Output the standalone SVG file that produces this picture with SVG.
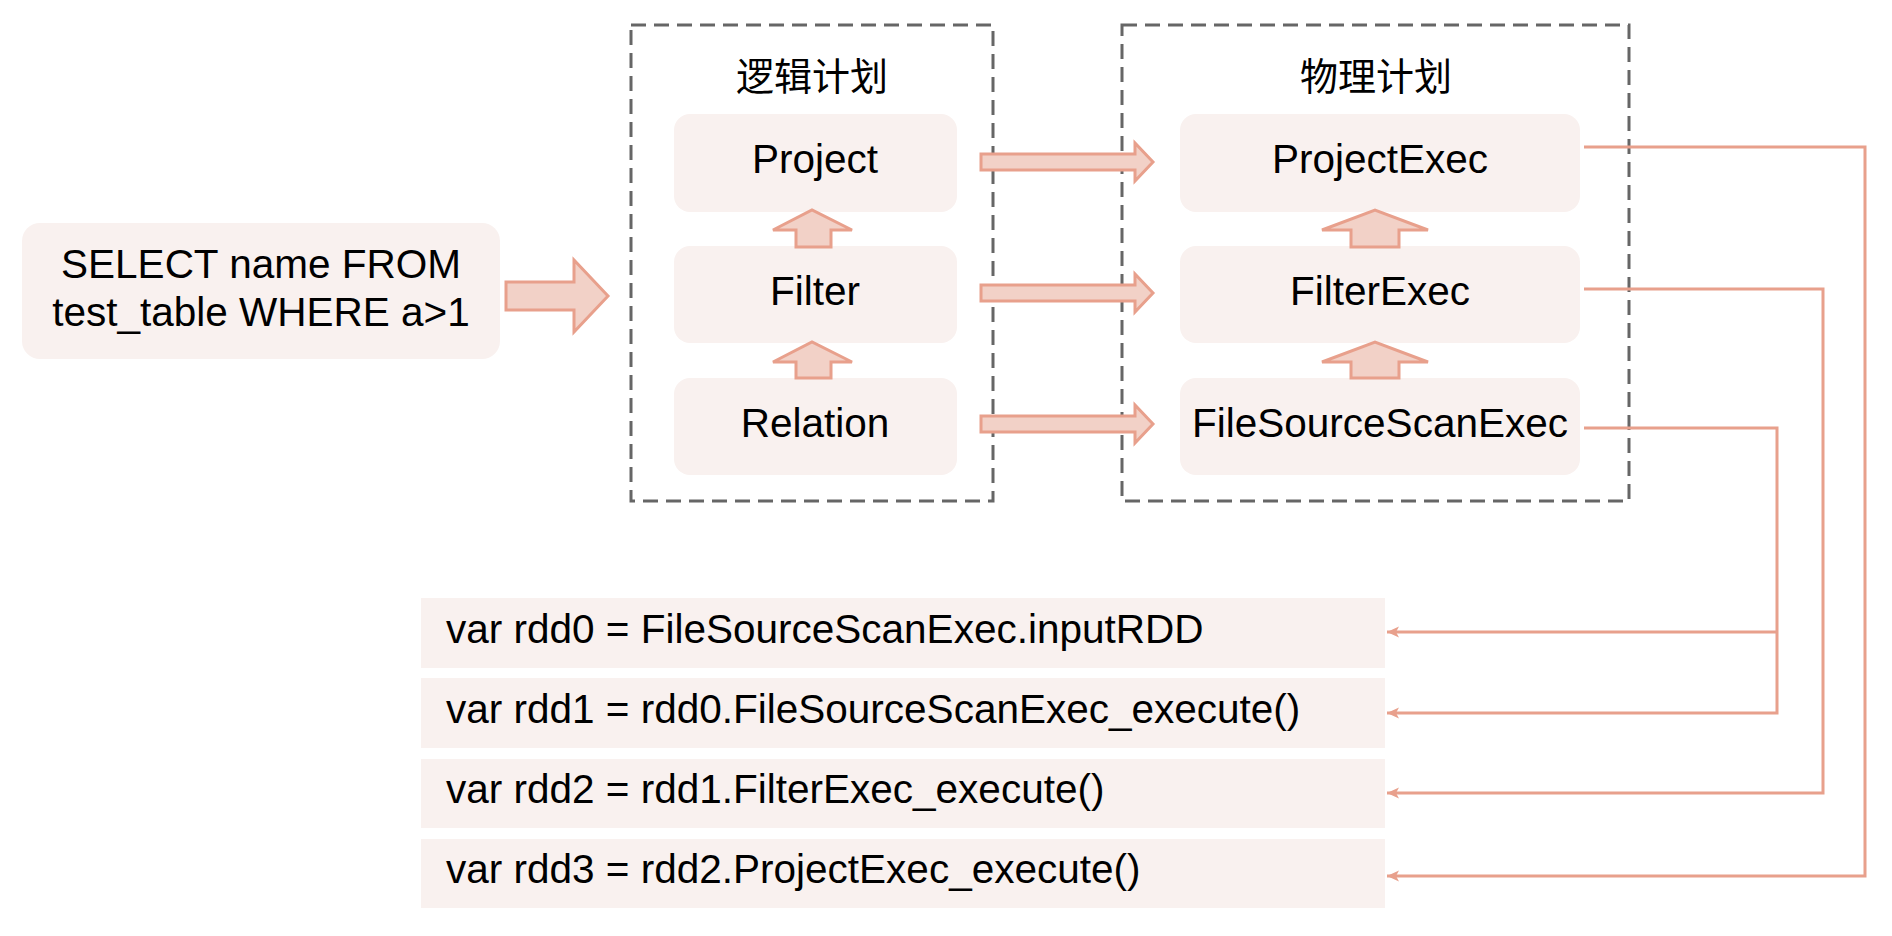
<svg xmlns="http://www.w3.org/2000/svg" width="1892" height="936" viewBox="0 0 1892 936">
<style>
.node{fill:#F9F1EF;}
.lbl{font-family:"Liberation Sans",Arial,sans-serif;font-size:40.5px;fill:#000;text-anchor:middle;}
.code{font-family:"Liberation Sans",Arial,sans-serif;font-size:40.5px;fill:#000;}
.title{font-family:"Liberation Sans","Noto Sans CJK SC",sans-serif;font-size:38px;font-weight:400;fill:#000;text-anchor:middle;}
.frame{fill:none;stroke:#666666;stroke-width:3;stroke-dasharray:15 8;}
.block{fill:#F2D1C7;stroke:#E8A08C;stroke-width:3;stroke-linejoin:miter;}
.wire{fill:none;stroke:#E8A08C;stroke-width:3;}
</style>
<defs>
<marker id="ah" markerUnits="userSpaceOnUse" markerWidth="14" markerHeight="14" viewBox="0 0 14 14" refX="13" refY="7" orient="auto">
<path d="M13,7 L1,1.5 L4,7 L1,12.5 Z" fill="#E8A08C"/>
</marker>
</defs>
<rect width="1892" height="936" fill="#FFFFFF"/>

<g id="logical-plan">
<rect class="frame" x="631" y="25" width="362" height="476"/>
<text class="title" x="812" y="90">逻辑计划</text>
</g>
<g id="physical-plan">
<rect class="frame" x="1122" y="25" width="507" height="476"/>
<text class="title" x="1376" y="90">物理计划</text>
</g>

<g id="sql">
<rect class="node" x="22" y="223" width="478" height="136" rx="18"/>
<text class="lbl" x="261" y="278">SELECT name FROM</text>
<text class="lbl" x="261" y="326">test_table WHERE a&gt;1</text>
</g>

<g id="project">
<rect class="node" x="674" y="114" width="283" height="98" rx="16"/>
<text class="lbl" x="815" y="173">Project</text>
</g>
<g id="filter">
<rect class="node" x="674" y="246" width="283" height="97" rx="16"/>
<text class="lbl" x="815" y="305">Filter</text>
</g>
<g id="relation">
<rect class="node" x="674" y="378" width="283" height="97" rx="16"/>
<text class="lbl" x="815" y="437">Relation</text>
</g>

<g id="projectexec">
<rect class="node" x="1180" y="114" width="400" height="98" rx="16"/>
<text class="lbl" x="1380" y="173">ProjectExec</text>
</g>
<g id="filterexec">
<rect class="node" x="1180" y="246" width="400" height="97" rx="16"/>
<text class="lbl" x="1380" y="305">FilterExec</text>
</g>
<g id="filesourcescanexec">
<rect class="node" x="1180" y="378" width="400" height="97" rx="16"/>
<text class="lbl" x="1380" y="437">FileSourceScanExec</text>
</g>

<g id="rdd0">
<rect class="node" x="421" y="598" width="964" height="70"/>
<text class="code" x="446" y="643">var rdd0 = FileSourceScanExec.inputRDD</text>
</g>
<g id="rdd1">
<rect class="node" x="421" y="678" width="964" height="70"/>
<text class="code" x="446" y="723">var rdd1 = rdd0.FileSourceScanExec_execute()</text>
</g>
<g id="rdd2">
<rect class="node" x="421" y="759" width="964" height="69"/>
<text class="code" x="446" y="803">var rdd2 = rdd1.FilterExec_execute()</text>
</g>
<g id="rdd3">
<rect class="node" x="421" y="839" width="964" height="69"/>
<text class="code" x="446" y="883">var rdd3 = rdd2.ProjectExec_execute()</text>
</g>

<g id="connectors">
<polygon class="block" points="506,282 574,282 574,260 608,296 574,332 574,310 506,310"/>
<polygon class="block" points="981,154 1135,154 1135,143 1153,162 1135,181 1135,170 981,170"/>
<polygon class="block" points="981,285 1135,285 1135,274 1153,293 1135,312 1135,301 981,301"/>
<polygon class="block" points="981,416 1135,416 1135,405 1153,424 1135,443 1135,432 981,432"/>
<polygon class="block" points="796,247 796,230 773,230 812,210 852,230 831,230 831,247"/>
<polygon class="block" points="796,378 796,362 773,362 812,342 852,362 831,362 831,378"/>
<polygon class="block" points="1351,247 1351,230 1322,230 1375,210 1428,230 1399,230 1399,247"/>
<polygon class="block" points="1351,378 1351,362 1322,362 1375,342 1428,362 1399,362 1399,378"/>
<path class="wire" d="M1584,147 H1865 V876 H1387" marker-end="url(#ah)"/>
<path class="wire" d="M1584,289 H1823 V793 H1387" marker-end="url(#ah)"/>
<path class="wire" d="M1584,428 H1777 V713 H1387" marker-end="url(#ah)"/>
<path class="wire" d="M1777,632 H1387" marker-end="url(#ah)"/>
</g>
</svg>
